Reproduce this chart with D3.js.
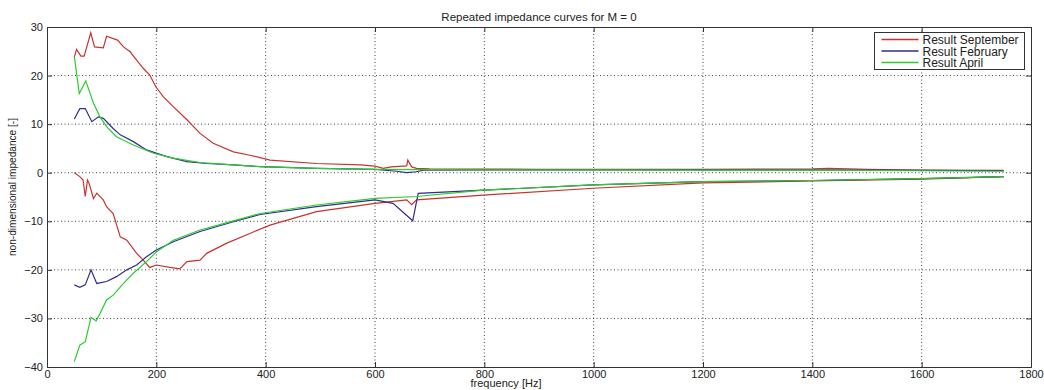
<!DOCTYPE html>
<html>
<head>
<meta charset="utf-8">
<script src="https://cdn.jsdelivr.net/npm/d3@7"></script>
<style>
  body { margin: 0; background: #fff; }
  text { font-family: "Liberation Sans", Arial, sans-serif; fill: #222; }
</style>
</head>
<body>
<div id="chart"></div>
<script>
// frequency [Hz] / value pairs, one pair of arrays per curve
const sepReF = [50, 54, 62, 68, 80, 87, 103, 109, 129, 140, 152, 164, 176, 188, 199, 213, 231, 256, 280, 304, 341, 371, 408, 493, 573, 600, 615, 630, 658, 660, 667, 676, 700, 800, 900, 1000, 1100, 1200, 1300, 1400, 1430, 1500, 1600, 1750];
const sepReV = [23.8, 25.4, 24.0, 24.0, 28.8, 25.9, 25.7, 28.1, 27.3, 25.9, 24.9, 23.2, 21.5, 20.1, 17.7, 15.6, 13.6, 10.9, 8.1, 6.05, 4.3, 3.6, 2.6, 1.9, 1.6, 1.35, 0.9, 1.2, 1.4, 2.6, 1.2, 0.9, 0.8, 0.75, 0.7, 0.7, 0.7, 0.7, 0.75, 0.8, 0.9, 0.7, 0.55, 0.5];

const sepImF = [50, 60, 66, 70, 74, 77, 85, 91, 103, 109, 121, 134, 146, 164, 176, 188, 200, 225, 243, 256, 280, 292, 329, 371, 408, 493, 600, 658, 667, 676, 798, 999, 1200, 1400, 1600, 1750];
const sepImV = [0, -0.8, -1.5, -4.9, -1.5, -2.2, -5.3, -4.2, -5.6, -7.0, -8.4, -13.2, -13.9, -16.6, -18.0, -19.5, -19.0, -19.5, -19.8, -18.3, -18.0, -16.6, -14.5, -12.5, -10.8, -8.0, -6.3, -5.6, -6.6, -5.6, -4.6, -3.2, -2.1, -1.7, -1.3, -0.8];

const febReF = [50, 60, 70, 82, 94, 103, 121, 134, 158, 182, 219, 256, 292, 341, 390, 493, 600, 640, 658, 675, 689, 800, 1000, 1200, 1400, 1600, 1750];
const febReV = [11.05, 13.2, 13.2, 10.5, 11.5, 11.2, 9.1, 7.8, 6.4, 4.7, 3.3, 2.3, 1.9, 1.6, 1.25, 0.9, 0.7, 0.3, 0.0, 0.2, 0.55, 0.6, 0.6, 0.6, 0.6, 0.5, 0.4];

const febImF = [50, 60, 70, 80.5, 91, 109, 127, 146, 164, 182, 200, 231, 280, 341, 390, 493, 600, 633, 669, 679, 798, 999, 1200, 1400, 1600, 1750];
const febImV = [-23.1, -23.6, -23.1, -20.0, -22.8, -22.4, -21.4, -20.0, -19.0, -17.3, -15.9, -14.2, -12.1, -10.1, -8.6, -7.0, -5.6, -6.3, -9.9, -4.25, -3.6, -2.5, -1.85, -1.6, -1.2, -0.8];

const aprReF = [50, 59, 71, 85, 97, 109, 127, 158, 195, 231, 280, 341, 390, 493, 600, 700, 800, 1000, 1200, 1400, 1600, 1750];
const aprReV = [23.9, 16.3, 18.9, 14.3, 11.5, 9.5, 7.4, 5.7, 4.0, 3.0, 2.1, 1.6, 1.25, 0.9, 0.7, 0.65, 0.6, 0.6, 0.55, 0.55, 0.4, 0.3];

const aprImF = [50, 60, 70, 80.5, 90, 97, 109, 121, 140, 158, 182, 200, 231, 280, 341, 390, 493, 600, 676, 798, 999, 1200, 1400, 1600, 1750];
const aprImV = [-38.9, -35.5, -34.8, -29.8, -30.5, -29.0, -26.2, -25.2, -22.8, -20.7, -18.3, -16.3, -13.9, -11.8, -9.9, -8.4, -6.65, -5.3, -4.9, -3.6, -2.5, -1.85, -1.6, -1.2, -0.8];

const seriesNames = ["Result September", "Result February", "Result April"];
const seriesColors = ["#c8332e", "#2f2f8a", "#2bcc2b"];

const xTicks = [0, 200, 400, 600, 800, 1000, 1200, 1400, 1600, 1800];
const yTicks = [-40, -30, -20, -10, 0, 10, 20, 30];

const width = 1044, height = 390;
const margin = { left: 47, right: 13, top: 27, bottom: 23 };
const innerWidth = width - margin.left - margin.right;
const innerHeight = height - margin.top - margin.bottom;

const svg = d3.select("#chart").append("svg")
    .attr("width", width)
    .attr("height", height);

const g = svg.append("g")
    .attr("transform", `translate(${margin.left}, ${margin.top})`);

const x = d3.scaleLinear().domain([0, 1800]).range([0, innerWidth]);
const y = d3.scaleLinear().domain([-40, 30]).range([innerHeight, 0]);

// grid
g.append("g").selectAll("line")
    .data(xTicks.slice(1, -1))
    .enter().append("line")
    .attr("x1", d => x(d)).attr("x2", d => x(d))
    .attr("y1", 0).attr("y2", innerHeight)
    .attr("stroke", "#444").attr("stroke-dasharray", "1,2.5");

g.append("g").selectAll("line")
    .data(yTicks.slice(1, -1))
    .enter().append("line")
    .attr("x1", 0).attr("x2", innerWidth)
    .attr("y1", d => y(d)).attr("y2", d => y(d))
    .attr("stroke", "#444").attr("stroke-dasharray", "1,2.5");

// axes (ticks inside, mirrored on top/right)
const axB = g.append("g").attr("transform", `translate(0, ${innerHeight})`)
    .call(d3.axisBottom(x).tickValues(xTicks).tickSize(-5).tickPadding(3).tickFormat(d3.format("d")));
const axT = g.append("g")
    .call(d3.axisTop(x).tickValues(xTicks).tickSize(-5).tickFormat(""));
const axL = g.append("g")
    .call(d3.axisLeft(y).tickValues(yTicks).tickSize(-5).tickPadding(4));
const axR = g.append("g").attr("transform", `translate(${innerWidth}, 0)`)
    .call(d3.axisRight(y).tickValues(yTicks).tickSize(-5).tickFormat(""));

[axB, axT, axL, axR].forEach(a => {
    a.select(".domain").attr("stroke", "#333");
    a.selectAll(".tick line").attr("stroke", "#333");
    a.selectAll("text").attr("font-size", 11).attr("fill", "#222")
        .attr("font-family", "Liberation Sans, Arial, sans-serif");
});

// curves
const line = d3.line()
    .x(d => x(d[0]))
    .y(d => y(d[1]));

const pairs = (f, v) => f.map((d, i) => [d, v[i]]);

const curves = [
    { data: pairs(sepReF, sepReV), c: 0 },
    { data: pairs(sepImF, sepImV), c: 0 },
    { data: pairs(febReF, febReV), c: 1 },
    { data: pairs(febImF, febImV), c: 1 },
    { data: pairs(aprReF, aprReV), c: 2 },
    { data: pairs(aprImF, aprImV), c: 2 }
];

g.append("g").selectAll("path")
    .data(curves)
    .enter().append("path")
    .attr("d", d => line(d.data))
    .attr("fill", "none")
    .attr("stroke", d => seriesColors[d.c])
    .attr("stroke-width", 1.2);

// title and labels
svg.append("text")
    .attr("x", margin.left + innerWidth / 2)
    .attr("y", 21)
    .attr("text-anchor", "middle")
    .attr("font-size", 11.5)
    .text("Repeated impedance curves for M = 0");

svg.append("text")
    .attr("x", 506)
    .attr("y", 387)
    .attr("text-anchor", "middle")
    .attr("font-size", 11)
    .text("frequency [Hz]");

svg.append("text")
    .attr("transform", "rotate(-90)")
    .attr("x", -187)
    .attr("y", 16)
    .attr("text-anchor", "middle")
    .attr("font-size", 10.5)
    .attr("textLength", 138)
    .attr("lengthAdjust", "spacingAndGlyphs")
    .text("non-dimensional impedance [-]");

// legend
const lg = svg.append("g").attr("transform", "translate(874.5, 32.5)");
lg.append("rect")
    .attr("width", 150).attr("height", 37)
    .attr("fill", "#fff").attr("stroke", "#333");

const items = lg.selectAll("g.item")
    .data(seriesNames)
    .enter().append("g")
    .attr("transform", (d, i) => `translate(0, ${7 + i * 11.5})`);

items.append("line")
    .attr("x1", 7).attr("x2", 44)
    .attr("stroke-width", 1.3)
    .attr("stroke", (d, i) => seriesColors[i]);

items.append("text")
    .attr("x", 48).attr("y", 4.5)
    .attr("font-size", 12)
    .text(d => d);
</script>
</body>
</html>
